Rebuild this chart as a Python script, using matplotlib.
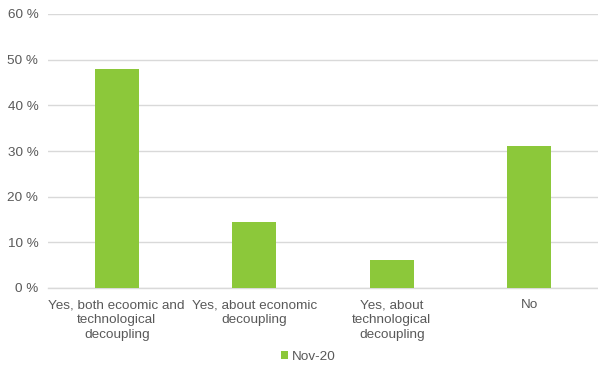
import matplotlib
matplotlib.use("Agg")
import matplotlib.pyplot as plt
from matplotlib.patches import Patch

categories = [
    "Yes, both ecoomic and\ntechnological\ndecoupling",
    "Yes, about economic\ndecoupling",
    "Yes, about\ntechnological\ndecoupling",
    "No",
]
values = [48.0, 14.5, 6.2, 31.2]
series_name = "Nov-20"
y_ticks = [0, 10, 20, 30, 40, 50, 60]

bar_color = "#8CC83A"
text_color = "#595959"
grid_color = "#D9D9D9"

plt.rcParams["font.family"] = ["Liberation Sans", "DejaVu Sans"]

fig = plt.figure(figsize=(5.98, 3.72), dpi=100)
ax = fig.add_axes([48 / 598, 84 / 372, 550 / 598, 274 / 372])

x = range(len(categories))
ax.bar(x, values, width=0.32, color=bar_color, zorder=3)

ax.set_xlim(-0.5, len(categories) - 0.5)
ax.set_ylim(0, 60)
ax.set_yticks(y_ticks)
ax.set_yticklabels([f"{t} %" for t in y_ticks])
ax.set_xticks(list(x))
ax.set_xticklabels(categories, linespacing=1.32)

ax.yaxis.grid(True, color=grid_color, linewidth=1.0, zorder=0)
for side in ["left", "right", "top"]:
    ax.spines[side].set_visible(False)
ax.spines["bottom"].set_color(grid_color)
ax.spines["bottom"].set_linewidth(1.0)
ax.tick_params(axis="both", length=0, labelsize=9.7, colors=text_color)
ax.tick_params(axis="x", pad=8)
ax.tick_params(axis="y", pad=7)

handles = [Patch(facecolor=bar_color, label=series_name)]
fig.legend(handles=handles, loc="center", bbox_to_anchor=(308 / 598, 1 - 357 / 372),
           frameon=False, fontsize=9.7, labelcolor=text_color,
           handlelength=0.55, handleheight=0.55, handletextpad=0.25)

fig.savefig("out.png", dpi=100)
